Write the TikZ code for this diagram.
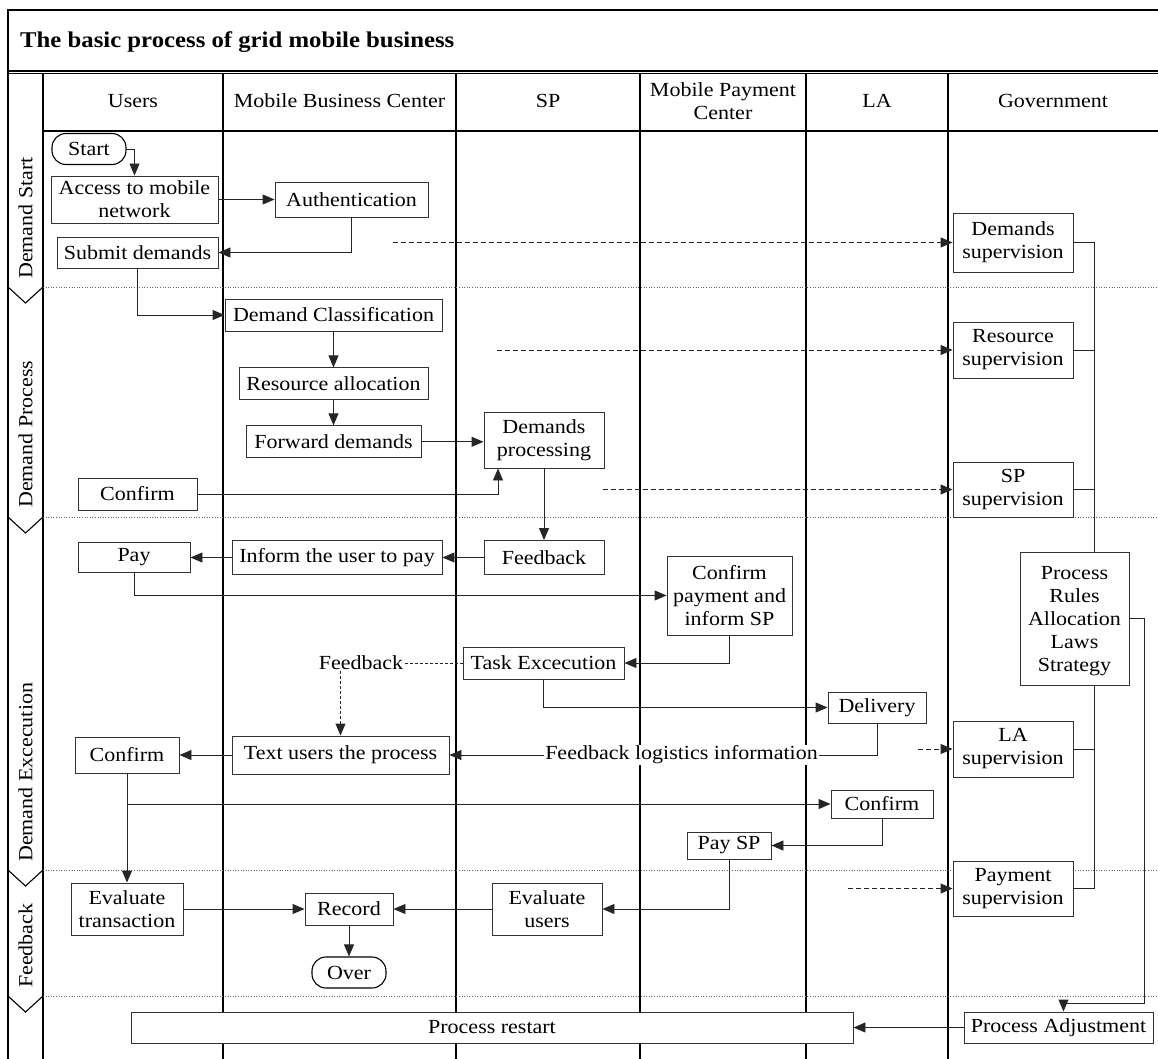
\documentclass[tikz,border=0pt]{standalone}
\usepackage{fontspec}
\setmainfont{Liberation Serif}[FakeStretch=1.1]
\usetikzlibrary{arrows.meta, positioning}
\tikzset{
  box/.style     = {draw=black!80, fill=white, rectangle, align=center, inner sep=2pt, line width=0.9pt},
  supbox/.style  = {box, minimum width=120pt, minimum height=56pt},
  tbox/.style    = {draw=black, fill=white, rounded corners=14pt, align=center, line width=1.1pt,
                    inner sep=2pt, minimum width=74pt, minimum height=31pt},
  arrow/.style   = {-{Triangle[length=12pt,width=10pt]}, draw=black!85, line width=0.9pt},
  darrow/.style  = {-{Triangle[length=12pt,width=10pt]}, draw=black!85, line width=0.9pt,
                    dash pattern=on 5pt off 3pt},
  link/.style    = {draw=black!85, line width=0.9pt},
  lane/.style    = {draw=black, line width=1.1pt},
  divider/.style = {draw=black!60, line width=0.6pt, dotted},
}

\begin{document}
\begin{tikzpicture}[
    x=1pt, y=-1pt,
    every node/.style={font=\fontsize{20}{23}\selectfont},
    hd/.style={align=center, inner sep=1pt},
    phase/.style={rotate=90, anchor=west, inner sep=1pt}
]
\useasboundingbox (0,0) rectangle (1158,1059);

% ---------------- frame and lanes ----------------
\draw[lane] (1158,10) -- (8,10) -- (8,1059);
\draw[lane] (8,71) -- (1158,71);
\draw[lane] (8,73.5) -- (1158,73.5);
\draw[lane] (43,131) -- (1158,131);
\foreach \x in {43,223,456,640,806}
  \draw[lane] (\x,73.5) -- (\x,1059);
\draw[lane, line width=1.6pt] (948,73.5) -- (948,1059);
\foreach \y in {287,517,870,996} {
  \draw[divider] (43,\y) -- (1158,\y);
  \draw[lane] (8,\y) -- (25.5,\y+16) -- (43,\y);
}

\node[anchor=west, inner sep=1pt, font=\fontsize{22.5}{26}\selectfont\bfseries] (title) at (19,42)
  {The basic process of grid mobile business};

\node[hd] (hdusers) at (133,101) {Users};
\node[hd] (hdmbc) at (339.5,101) {Mobile Business Center};
\node[hd] (hdsp) at (548,101) {SP};
\node[hd] (hdmpc) at (723,101) {Mobile Payment\\Center};
\node[hd] (hdla) at (877,101) {LA};
\node[hd] (hdgov) at (1053,101) {Government};

\node[phase] (phstart) at (25.5,280) {Demand Start};
\node[phase] (phproc) at (25.5,509) {Demand Process};
\node[phase] (phexec) at (25.5,863) {Demand Excecution};
\node[phase] (phfeed) at (25.5,989) {Feedback};

% ---------------- demand start ----------------
\node[tbox] (start) at (89,149) {Start};
\node[box, minimum width=167pt, minimum height=47pt] (access) at (134.5,199.5) {Access to mobile\\network};
\node[box, minimum width=153pt, minimum height=35pt] (auth) at (351.5,199.5) {Authentication};
\node[box, minimum width=161pt, minimum height=31pt] (submit) at (137.5,252.5) {Submit demands};
\node[supbox, minimum height=59pt] (demsup) at (1013,242.5) {Demands\\supervision};

\draw[arrow] (start.east) -| (access.north);
\draw[arrow] (access.east) -- (auth.west);
\draw[arrow] (auth.south) |- (submit.east);
\coordinate (dsrc1) at (393,242.5);
\draw[darrow] (dsrc1) -- (demsup.west);

% ---------------- demand process ----------------
\node[box, minimum width=217pt, minimum height=32pt] (dclass) at (333.5,315) {Demand Classification};
\node[box, minimum width=189pt, minimum height=32pt, below=36pt of dclass] (ralloc) {Resource allocation};
\node[box, minimum width=175pt, minimum height=32pt, below=25pt of ralloc] (fwd) {Forward demands};
\node[box, minimum width=120pt, minimum height=56pt] (dproc) at (544,440) {Demands\\processing};
\node[box, minimum width=119pt, minimum height=32pt] (confirma) at (137.5,494) {Confirm};
\node[supbox] (ressup) at (1013,350) {Resource\\supervision};
\node[supbox, minimum height=55pt] (spsup) at (1013,489.5) {SP\\supervision};

\draw[arrow] (submit.south) |- (dclass.west);
\draw[arrow] (dclass) -- (ralloc);
\draw[arrow] (ralloc) -- (fwd);
\draw[arrow] (fwd.east) -- (fwd.east -| dproc.west);
\draw[arrow] (confirma.east) -| ([xshift=-46pt]dproc.south);
\coordinate (dsrc2) at (497,350);
\coordinate (dsrc3) at (603,489.5);
\draw[darrow] (dsrc2) -- (ressup.west);
\draw[darrow] (dsrc3) -- (spsup.west);

% ---------------- demand excecution ----------------
\node[box, minimum width=112pt, minimum height=30pt] (pay) at (134,557.5) {Pay};
\node[box, minimum width=210pt, minimum height=34pt] (inform) at (337,557.5) {Inform the user to pay};
\node[box, minimum width=120pt, minimum height=34pt] (spfb) at (544,557.5) {Feedback};
\node[box, minimum width=125pt, minimum height=79pt] (cpay) at (729.5,595.5) {Confirm\\payment and\\inform SP};
\node[box, minimum width=161pt, minimum height=32pt] (task) at (543.5,663) {Task Excecution};
\node[inner sep=1pt] (fblabel) at (361,663) {Feedback};
\node[box, minimum width=98pt, minimum height=31pt] (deliv) at (877,707.5) {Delivery};
\node[box, minimum width=217pt, minimum height=38pt] (textu) at (340.5,755) {Text users the process};
\node[box, minimum width=104pt, minimum height=36pt] (confirmb) at (127,755) {Confirm};
\node[fill=white, inner sep=1pt] (loginfo) at (681.5,755) {Feedback logistics information};
\node[box, minimum width=102pt, minimum height=28pt] (laconf) at (882,804) {Confirm};
\node[box, minimum width=84pt, minimum height=27pt] (paysp) at (729,845.5) {Pay SP};
\node[supbox] (lasup) at (1013,749) {LA\\supervision};
\node[box, minimum width=109pt, minimum height=133pt, text depth=0pt] (rules) at (1074.5,618.5)
  {Process\\Rules\\Allocation\\Laws\\Strategy};

\draw[arrow] (dproc) -- (spfb);
\draw[arrow] (spfb) -- (inform);
\draw[arrow] (inform) -- (pay);
\draw[arrow] (pay.south) |- (cpay.west);
\draw[arrow] (cpay.south) |- (task.east);
\draw[link, dash pattern=on 3pt off 2pt] (task.west) -- (fblabel.east);
\draw[darrow, dash pattern=on 3pt off 2pt] (fblabel.south -| textu.north) -- (textu.north);
\draw[arrow] (task.south) |- (deliv.west);
\draw[link] (deliv.south) |- (loginfo.east);
\draw[arrow] (loginfo.west) -- (textu.east);
\draw[arrow] (textu) -- (confirmb);
\draw[arrow] (confirmb.south) |- (laconf.west);
\draw[arrow] (laconf.south) |- (paysp.east);
\coordinate (dsrc4) at (918,749);
\draw[darrow] (dsrc4) -- (lasup.west);

% ---------------- feedback ----------------
\node[box, minimum width=112pt, minimum height=52pt] (evalt) at (127,909) {Evaluate\\transaction};
\node[box, minimum width=88pt, minimum height=32pt] (record) at (349,909) {Record};
\node[tbox, below=31pt of record] (over) {Over};
\node[box, minimum width=110pt, minimum height=52pt] (evalu) at (547,909) {Evaluate\\users};
\node[supbox, minimum height=55pt] (paysup) at (1013,888.5) {Payment\\supervision};

\draw[arrow] (confirmb) -- (evalt);
\draw[arrow] (paysp.south) |- (evalu.east);
\draw[arrow] (evalt) -- (record);
\draw[arrow] (evalu) -- (record);
\draw[arrow] (record) -- (over);
\coordinate (dsrc5) at (848,888.5);
\draw[darrow] (dsrc5) -- (paysup.west);

% ---------------- supervision bus ----------------
\coordinate (bustop) at ([xshift=19.5pt]rules.north);
\coordinate (busbot) at ([xshift=19.5pt]rules.south);
\draw[link] (demsup.east) -| (bustop);
\draw[link] (ressup.east) -- (ressup.east -| bustop);
\draw[link] (spsup.east) -- (spsup.east -| bustop);
\draw[link] (lasup.east) -- (lasup.east -| busbot);
\draw[link] (paysup.east) -| (busbot);

% ---------------- restart ----------------
\node[box, minimum width=722pt, minimum height=31pt] (restart) at (492,1027.5) {Process restart};
\node[box, minimum width=189pt, minimum height=31pt] (padjust) at (1058.5,1027.5) {Process Adjustment};

\draw[arrow] (rules.east) -| ++(15,385) -| ([xshift=5pt]padjust.north);
\draw[arrow] (padjust) -- (restart);

\end{tikzpicture}
\end{document}
